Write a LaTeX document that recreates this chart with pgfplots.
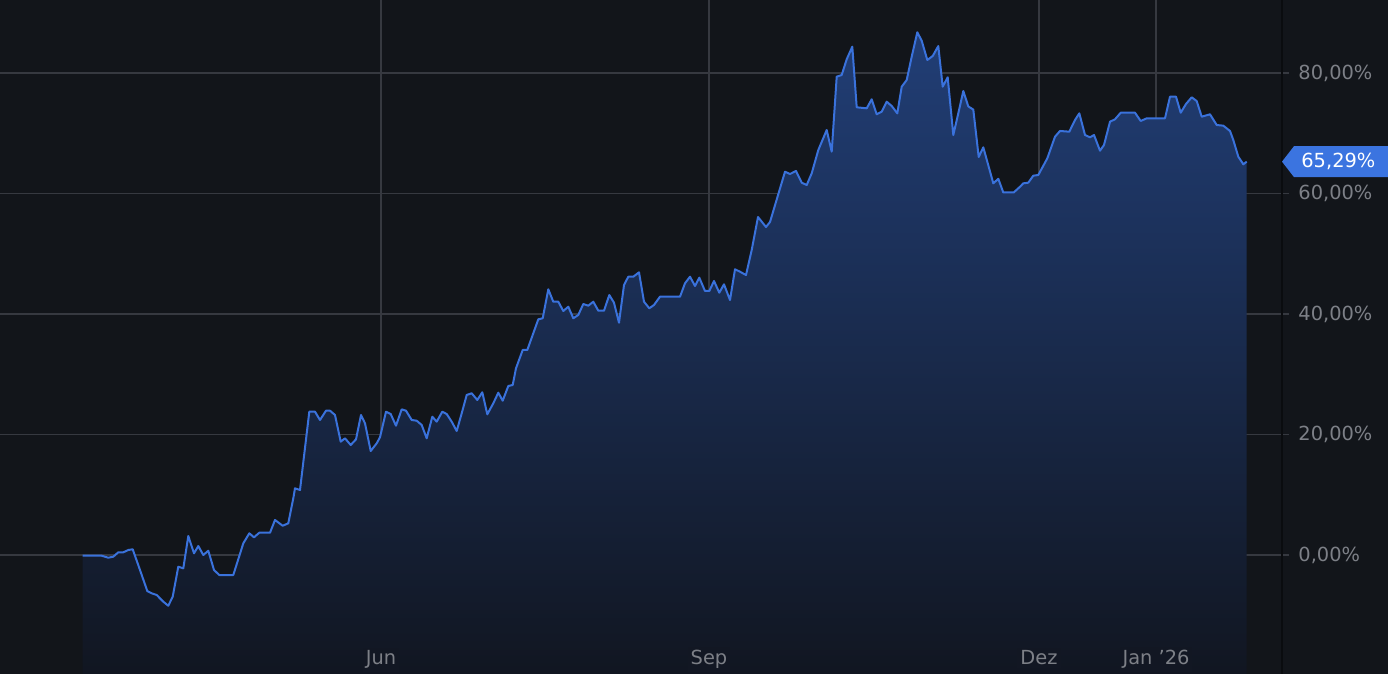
\documentclass[border=0pt]{standalone}
\usepackage{fontspec}
\setmainfont{DejaVu Sans}
\usepackage{pgfplots}
\pgfplotsset{compat=1.18}
\usepackage{pgfplotstable}
\definecolor{bg}{RGB}{18,21,26}
\definecolor{gridc}{RGB}{54,57,64}
\definecolor{tickc}{RGB}{125,128,135}
\definecolor{linec}{RGB}{58,114,220}
\definecolor{filltop}{RGB}{33,62,118}
\definecolor{fillbot}{RGB}{17,22,33}
\definecolor{labelfill}{RGB}{18,23,35}
\definecolor{labelblue}{RGB}{59,116,224}
\definecolor{sepc}{RGB}{10,12,15}

\pgfplotstableread{
x y
82.7 -0.12
101.7 -0.12
108.3 -0.45
113.3 -0.28
118.3 0.45
123.3 0.45
128.3 0.83
132.7 0.95
140.0 -2.49
147.3 -5.98
151.7 -6.36
156.7 -6.64
163.3 -7.75
168.3 -8.42
172.7 -6.92
178.3 -1.94
183.3 -2.21
188.3 3.15
194.0 0.28
198.3 1.49
203.3 0.00
208.3 0.71
214.0 -2.49
219.3 -3.32
233.3 -3.32
243.3 1.94
249.3 3.60
254.0 2.94
259.3 3.70
270.0 3.70
275.0 5.81
282.7 4.86
288.3 5.26
293.3 9.41
295.0 11.07
300.0 10.79
309.3 23.79
315.0 23.79
320.0 22.41
326.0 23.95
330.0 23.95
335.0 23.24
340.7 18.81
345.0 19.37
350.7 18.26
356.0 19.20
361.0 23.24
365.0 21.86
370.7 17.26
376.7 18.54
380.0 19.54
386.0 23.79
390.7 23.40
396.0 21.46
401.7 24.18
406.0 23.95
411.7 22.41
416.7 22.29
421.7 21.58
426.7 19.37
432.3 22.96
436.7 22.13
442.3 23.79
446.7 23.40
451.7 22.13
456.7 20.58
461.7 23.52
466.7 26.56
471.7 26.84
477.3 25.73
482.3 27.01
487.3 23.35
493.3 25.18
498.3 26.94
502.7 25.61
508.3 28.05
512.7 28.22
516.0 30.99
522.7 34.03
527.3 34.03
538.3 39.12
542.7 39.29
548.3 44.10
553.3 42.04
558.3 42.04
563.3 40.50
568.3 41.21
573.3 39.29
578.3 39.84
583.3 41.66
588.3 41.38
593.3 42.04
598.3 40.55
604.0 40.55
609.3 43.15
614.0 41.88
619.0 38.56
624.0 44.81
628.3 46.19
633.3 46.19
639.0 46.92
644.0 42.04
649.3 40.95
654.0 41.50
660.0 42.87
680.0 42.87
685.0 45.10
690.0 46.19
695.0 44.65
699.3 46.03
705.0 43.82
709.3 43.82
714.0 45.48
719.3 43.54
724.0 44.93
730.0 42.32
735.0 47.42
740.0 47.02
746.0 46.47
751.7 50.62
758.0 56.10
766.0 54.44
770.0 55.27
785.0 63.62
790.0 63.24
796.0 63.74
801.7 61.80
806.7 61.41
811.7 63.35
818.3 67.22
826.7 70.54
831.7 66.94
836.7 79.39
841.7 79.67
846.7 82.28
852.3 84.37
856.7 74.31
866.7 74.14
871.7 75.64
876.7 73.15
881.7 73.58
886.7 75.24
891.7 74.53
897.3 73.31
901.7 77.73
906.7 78.84
911.7 82.71
917.3 86.76
921.7 85.36
927.3 82.16
932.7 82.82
938.3 84.48
942.7 77.73
947.7 79.29
953.3 69.71
958.3 73.31
963.3 77.01
968.3 74.46
973.3 73.93
978.7 66.06
983.3 67.67
993.3 61.69
998.3 62.44
1003.3 60.17
1013.7 60.17
1020.0 61.13
1023.3 61.69
1028.3 61.80
1033.3 62.96
1038.3 63.07
1047.3 65.84
1055.0 69.43
1060.0 70.38
1069.3 70.26
1075.0 72.20
1079.3 73.31
1085.0 69.71
1090.0 69.33
1094.0 69.71
1100.0 67.11
1104.0 68.05
1110.0 71.92
1115.0 72.32
1120.7 73.41
1135.0 73.41
1140.7 72.04
1146.7 72.48
1165.0 72.48
1170.0 76.07
1176.0 76.07
1180.7 73.41
1186.0 74.86
1191.7 75.97
1196.7 75.35
1201.7 72.75
1210.0 73.15
1216.7 71.37
1223.3 71.26
1230.0 70.38
1233.3 68.88
1238.3 66.11
1243.3 64.85
1246.7 65.29
}\data

\begin{document}
\begin{tikzpicture}[x=1pt,y=1pt]
\fill[bg] (0,0) rectangle (694,337);
\begin{axis}[
  at={(0,0)}, anchor=south west,
  scale only axis, width=641pt, height=337pt,
  xmin=0, xmax=1282, ymin=-19.75, ymax=92.12,
  axis line style={draw=none},
  xtick={381,709,1039,1156},
  xticklabels={},
  ytick={0,20,40,60,80},
  grid=major,
  major grid style={gridc, line width=0.6pt},
  tick align=outside,
  major tick length=3.5pt,
  ytick pos=right, yticklabel pos=right,
  xtick style={draw=none},
  ytick style={gridc, line width=0.6pt},
  /pgf/number format/assume math mode=true,
  yticklabel={\pgfmathprintnumber[fixed,fixed zerofill,precision=2,use comma]{\tick}\%},
  yticklabel style={font=\fontsize{9.7}{11}\selectfont, text=tickc, anchor=west, inner sep=0pt, xshift=4.5pt},
  clip=false,
]
\addplot[draw=none, top color=filltop, bottom color=fillbot] table {\data}
  -- (axis cs:1246.7,-19.75) -- (axis cs:82.7,-19.75) -- cycle;
\addplot[linec, line width=1pt, line join=round, no markers] table {\data};
\coordinate (lastpt) at (axis cs:1282,65.29);
\tikzset{xlab/.style={anchor=base, text=tickc, fill=labelfill, inner xsep=1.5pt, inner ysep=1.5pt, font=\fontsize{9.7}{11}\selectfont}}
\node[xlab] at (axis cs:381,-18.2) {Jun};
\node[xlab] at (axis cs:709,-18.2) {Sep};
\node[xlab] at (axis cs:1039,-18.2) {Dez};
\node[xlab] at (axis cs:1156,-18.2) {Jan \symbol{39}26};
\end{axis}
\draw[sepc, line width=0.6pt] (641,0) -- (641,337);
\fill[labelblue] (lastpt) -- ++(6,7.75) -- ++(47,0) -- ++(0,-15.5) -- ++(-47,0) -- cycle;
\node[anchor=west, inner sep=0pt, text=white, font=\fontsize{9.7}{11}\selectfont] at ([xshift=9.5pt]lastpt) {65,29\%};
\pgfresetboundingbox
\path[use as bounding box] (0,0) rectangle (694,337);
\end{tikzpicture}
\end{document}
